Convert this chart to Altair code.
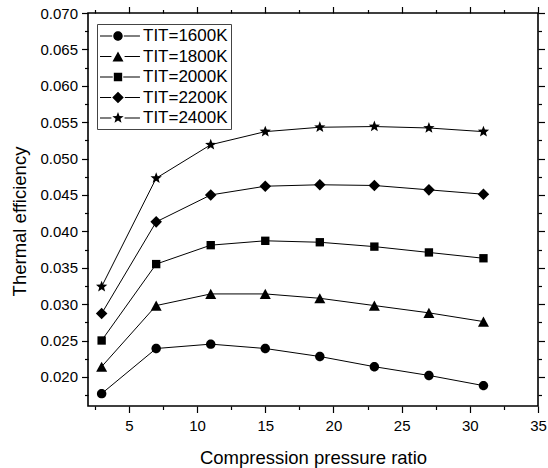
import math
import altair as alt
import pandas as pd

# ---------------- data ----------------
pressure_ratio = [3, 7, 11, 15, 19, 23, 27, 31]
series_names = ["TIT=1600K", "TIT=1800K", "TIT=2000K", "TIT=2200K", "TIT=2400K"]
eff_1600 = [0.0177, 0.0239, 0.0245, 0.0239, 0.0228, 0.0214, 0.0202, 0.0188]
eff_1800 = [0.0214, 0.0298, 0.0314, 0.0314, 0.0308, 0.0298, 0.0288, 0.0276]
eff_2000 = [0.0250, 0.0355, 0.0381, 0.0387, 0.0385, 0.0379, 0.0371, 0.0363]
eff_2200 = [0.0287, 0.0413, 0.0450, 0.0462, 0.0464, 0.0463, 0.0457, 0.0451]
eff_2400 = [0.0324, 0.0473, 0.0519, 0.0537, 0.0543, 0.0544, 0.0542, 0.0537]

x_major = [5, 10, 15, 20, 25, 30, 35]
x_minor = [2.5, 7.5, 12.5, 17.5, 22.5, 27.5, 32.5]
y_major = [0.020, 0.025, 0.030, 0.035, 0.040, 0.045, 0.050, 0.055, 0.060, 0.065, 0.070]
y_minor = [0.0175, 0.0225, 0.0275, 0.0325, 0.0375, 0.0425, 0.0475, 0.0525, 0.0575, 0.0625, 0.0675]

X_DOMAIN = [2, 35]
Y_DOMAIN = [0.016, 0.070]

all_series = [eff_1600, eff_1800, eff_2000, eff_2200, eff_2400]
rows = []
for name, vals in zip(series_names, all_series):
    for xv, yv in zip(pressure_ratio, vals):
        rows.append({"ratio": xv, "eff": yv, "series": name})
df = pd.DataFrame(rows)

# ---------------- marker paths ----------------
def f(v):
    return f"{v:.3f}"

def marker(kind, cx=0.0, k=1.0):
    if kind == "circle":
        r = 0.86 * k
        return (f"M{f(cx + r)},0A{f(r)},{f(r)} 0 1 1 {f(cx - r)},0"
                f"A{f(r)},{f(r)} 0 1 1 {f(cx + r)},0Z")
    if kind == "triangle":
        w, h = 1.0 * k, 0.92 * k
        return f"M{f(cx)},{f(-h)}L{f(cx + w)},{f(h)}L{f(cx - w)},{f(h)}Z"
    if kind == "square":
        s = 0.76 * k
        return f"M{f(cx - s)},{f(-s)}H{f(cx + s)}V{f(s)}H{f(cx - s)}Z"
    if kind == "diamond":
        d = 1.05 * k
        return f"M{f(cx)},{f(-d)}L{f(cx + d)},0L{f(cx)},{f(d)}L{f(cx - d)},0Z"
    if kind == "star":
        R, r = 1.08 * k, 0.46 * k
        pts = []
        for i in range(10):
            a = -math.pi / 2 + i * math.pi / 5
            rad = R if i % 2 == 0 else r
            pts.append(f"{f(cx + rad * math.cos(a))},{f(rad * math.sin(a))}")
        return "M" + "L".join(pts) + "Z"

kinds = ["circle", "triangle", "square", "diamond", "star"]
half_w = {"circle": 0.86, "triangle": 1.0, "square": 0.76, "diamond": 1.05, "star": 1.0}

main_paths = [marker(kd) for kd in kinds]

LK = 5.5 / 9.0
LCX = 1.0
lt = 0.06
legend_paths = []
for kd in kinds:
    hw = half_w[kd] * LK + 0.12
    left = f"M-1,{f(-lt)}H{f(LCX - hw)}V{f(lt)}H-1Z"
    right = f"M{f(LCX + hw)},{f(-lt)}H3.44V{f(lt)}H{f(LCX + hw)}Z"
    legend_paths.append(left + right + marker(kd, LCX, LK))

# ---------------- chart ----------------
W, H = 450, 393
FONT = "Liberation Sans"
MAJ, MIN = 6.5, 3.5
xscale = alt.Scale(domain=X_DOMAIN, nice=False, zero=False)
yscale = alt.Scale(domain=Y_DOMAIN, nice=False, zero=False)

x_vals = sorted(x_major + x_minor)
y_vals = sorted(y_major + y_minor)
x_is_major = "datum.value % 5 === 0"
y_is_major = "round(datum.value * 10000) % 50 === 0"
x_tick = {"condition": {"test": x_is_major, "value": MAJ}, "value": MIN}
y_tick = {"condition": {"test": y_is_major, "value": MAJ}, "value": MIN}

x_axis = alt.Axis(
    values=x_vals, labelExpr=f"{x_is_major} ? datum.label : ''",
    tickSize=x_tick,
    labelFont=FONT, labelFontSize=15, labelColor="black", labelPadding=6,
    labelOverlap=False, labelFlush=False, grid=False, domain=False,
    tickColor="black", tickWidth=1.2,
    title="Compression pressure ratio", titleFont=FONT, titleFontSize=18.5,
    titleFontWeight="normal", titleColor="black",
    titleX=W / 2, titleY=57, titleBaseline="alphabetic", titleAlign="center",
)
y_axis = alt.Axis(
    values=y_vals, format=".3f", labelExpr=f"{y_is_major} ? datum.label : ''",
    tickSize=y_tick,
    labelFont=FONT, labelFontSize=15, labelColor="black", labelPadding=4,
    labelOverlap=False, labelFlush=False, grid=False, domain=False,
    tickColor="black", tickWidth=1.2,
    title="Thermal efficiency", titleFont=FONT, titleFontSize=18.5,
    titleFontWeight="normal", titleColor="black",
    titleX=-63, titleY=208, titleBaseline="alphabetic", titleAlign="center", titleAngle=-90,
)

# tick-only axes for the top and right edges of the frame
top_axis = alt.Axis(
    orient="top", values=x_vals, tickSize=x_tick, labels=False, title=None,
    domain=False, grid=False, tickColor="black", tickWidth=1.2,
)
right_axis = alt.Axis(
    orient="right", values=y_vals, tickSize=y_tick, labels=False, title=None,
    domain=False, grid=False, tickColor="black", tickWidth=1.2,
)

base = alt.Chart(df)

lines = base.mark_line(color="black", strokeWidth=1).encode(
    x=alt.X("ratio:Q", scale=xscale, axis=x_axis),
    y=alt.Y("eff:Q", scale=yscale, axis=y_axis),
    detail="series:N",
)

points = base.mark_point(filled=True, color="black", opacity=1, size=121).encode(
    x=alt.X("ratio:Q", scale=xscale, axis=top_axis),
    y=alt.Y("eff:Q", scale=yscale, axis=right_axis),
    shape=alt.Shape("series:N", scale=alt.Scale(domain=series_names, range=main_paths), legend=None),
)

legend_layer = base.transform_filter("false").mark_point(
    filled=True, color="black", opacity=1, size=324
).encode(
    x=alt.X("ratio:Q", scale=xscale, axis=None),
    y=alt.Y("eff:Q", scale=yscale, axis=None),
    shape=alt.Shape("series:N", scale=alt.Scale(domain=series_names, range=legend_paths),
                    legend=alt.Legend(
                        title=None, orient="none", legendX=9, legendY=11,
                        labelFont=FONT, labelFontSize=17, labelColor="black",
                        symbolSize=324, labelOffset=25, rowPadding=3.5,
                        padding=3, strokeColor="#444", fillColor="white",
                        symbolFillColor="black", symbolStrokeWidth=0, symbolOpacity=1,
                    )),
)

chart = alt.layer(lines, points, legend_layer).resolve_scale(
    shape="independent"
).resolve_axis(
    x="independent", y="independent"
).properties(
    width=W, height=H,
    autosize=alt.AutoSizeParams(type="none"),
    padding={"left": 88, "top": 13, "right": 10, "bottom": 62},
    background="white",
).configure_view(
    stroke="black", strokeWidth=1.6
)

chart.save("out.html", embed_options={"renderer": "svg", "actions": False})
